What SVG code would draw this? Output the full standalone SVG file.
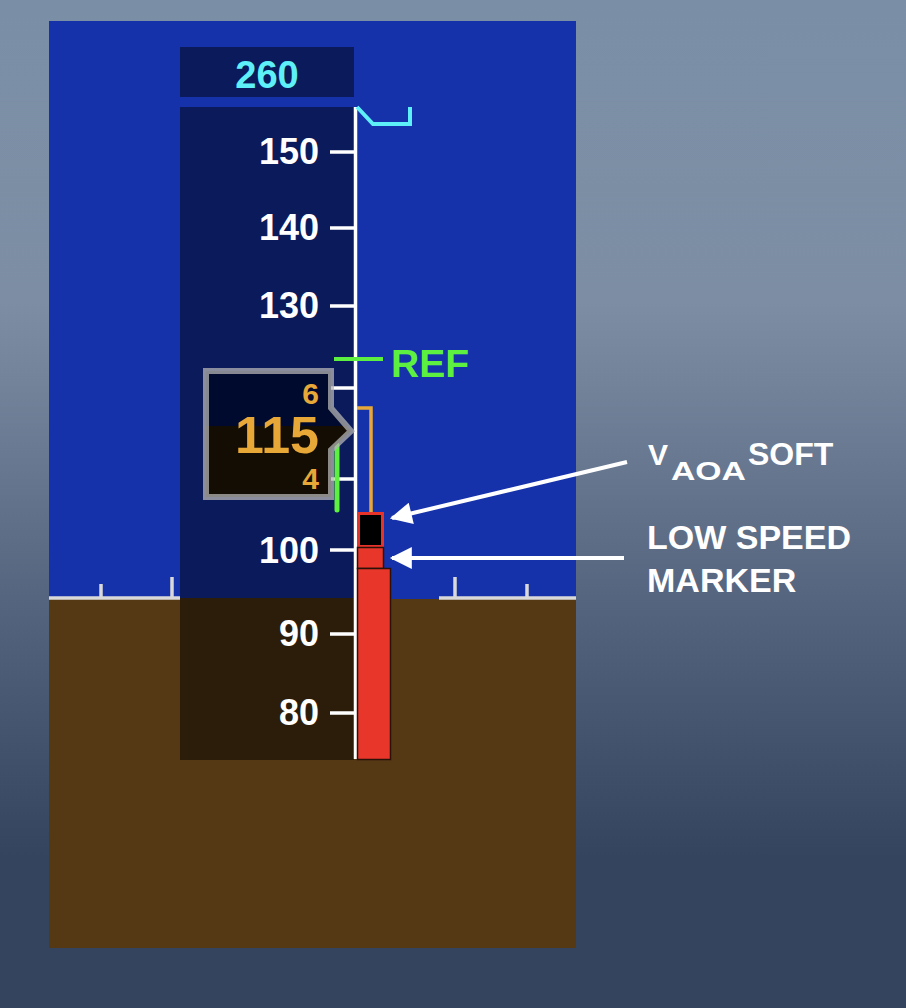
<svg xmlns="http://www.w3.org/2000/svg" width="906" height="1008" viewBox="0 0 906 1008">
  <defs>
    <linearGradient id="bg" x1="0" y1="0" x2="0" y2="1">
      <stop offset="0" stop-color="#7a8fa6"/>
      <stop offset="0.3" stop-color="#7d8ea4"/>
      <stop offset="0.6" stop-color="#55647e"/>
      <stop offset="0.85" stop-color="#34445e"/>
      <stop offset="1" stop-color="#34445e"/>
    </linearGradient>
    <marker id="ah" viewBox="0 0 10 10" refX="9" refY="5" markerWidth="6" markerHeight="5.5" markerUnits="strokeWidth" orient="auto">
      <path d="M0,0 L10,5 L0,10 Z" fill="#ffffff"/>
    </marker>
    <style>
      .num { font-family: "Liberation Sans", Arial, sans-serif; font-weight: bold; fill: #ffffff; font-size: 36px; text-anchor: end; }
      .tick { stroke: #ffffff; stroke-width: 3.5; }
      .lbl { font-family: "Liberation Sans", Arial, sans-serif; font-weight: bold; fill: #ffffff; }
      .hz { stroke: #d9d9d9; stroke-width: 3.5; fill: none; }
      .arrow { stroke: #ffffff; stroke-width: 4; fill: none; marker-end: url(#ah); }
      .amber { font-family: "Liberation Sans", Arial, sans-serif; font-weight: bold; fill: #e8a838; text-anchor: end; }
    </style>
  </defs>

  <rect x="0" y="0" width="906" height="1008" fill="url(#bg)"/>

  <g id="attitude">
    <rect x="49" y="21" width="527" height="578" fill="#1632aa"/>
    <rect x="49" y="599" width="527" height="349" fill="#553814"/>
    <path class="hz" d="M49,598 H181 M101,598 V584 M172,598 V577 M439,598 H576 M455,598 V577 M527,598 V584"/>
  </g>

  <g id="selected-speed">
    <rect x="180" y="47" width="174" height="50" fill="#0a1a5a"/>
    <text x="267" y="88" text-anchor="middle" font-family="Liberation Sans, Arial, sans-serif" font-weight="bold" font-size="38" fill="#5ef0f8">260</text>
  </g>

  <g id="speed-tape">
    <rect x="180" y="107" width="174" height="491" fill="#0a1a5a"/>
    <rect x="180" y="598" width="174" height="162" fill="#2c1d0a"/>
    <line x1="355.5" y1="107" x2="355.5" y2="759" stroke="#ffffff" stroke-width="3.5"/>
    <line class="tick" x1="330" y1="152" x2="354" y2="152"/>
    <line class="tick" x1="330" y1="228" x2="354" y2="228"/>
    <line class="tick" x1="330" y1="306" x2="354" y2="306"/>
    <line class="tick" x1="330" y1="388" x2="354" y2="388"/>
    <line class="tick" x1="330" y1="479" x2="354" y2="479"/>
    <line class="tick" x1="330" y1="550" x2="354" y2="550"/>
    <line class="tick" x1="330" y1="634" x2="354" y2="634"/>
    <line class="tick" x1="330" y1="713" x2="354" y2="713"/>
    <text class="num" x="319" y="164">150</text>
    <text class="num" x="319" y="240">140</text>
    <text class="num" x="319" y="318">130</text>
    <text class="num" x="319" y="563">100</text>
    <text class="num" x="319" y="646">90</text>
    <text class="num" x="319" y="725">80</text>
  </g>

  <g id="speed-bug">
    <path d="M357,107 L373,124 H410 V107" fill="none" stroke="#5ef0f8" stroke-width="4"/>
  </g>

  <g id="ref">
    <line x1="334" y1="359" x2="383" y2="359" stroke="#5ef040" stroke-width="4"/>
    <text x="391" y="377" font-family="Liberation Sans, Arial, sans-serif" font-weight="bold" font-size="39" fill="#5ef040">REF</text>
  </g>

  <g id="trend">
    <line x1="337" y1="445" x2="337" y2="510" stroke="#5ef040" stroke-width="5" stroke-linecap="round"/>
    <path d="M357,408 H371 V513" fill="none" stroke="#e8a838" stroke-width="3.5"/>
  </g>

  <g id="current-speed">
    <path d="M206,371 H331 V408 L351,431 L331,450 V497 H206 Z" fill="#140d03"/>
    <path d="M206,371 H331 V408 L349,426 H206 Z" fill="#000a2e"/>
    <path d="M206,371 H331 V408 L351,431 L331,450 V497 H206 Z" fill="none" stroke="#b4b4b4" stroke-opacity="0.75" stroke-width="6"/>
    <text class="amber" x="319" y="404" font-size="30">6</text>
    <text class="amber" x="319" y="453" font-size="52">115</text>
    <text class="amber" x="319" y="489" font-size="30">4</text>
  </g>

  <g id="vaoa-soft">
    <rect x="358.5" y="513.5" width="24" height="33" fill="#000000" stroke="#e8332a" stroke-width="3"/>
  </g>

  <g id="low-speed-marker">
    <rect x="357.5" y="547.5" width="26" height="21" fill="#e8362a" stroke="#2a1208" stroke-width="1.5"/>
    <rect x="357.5" y="568.5" width="33" height="191" fill="#e8362a" stroke="#2a1208" stroke-width="1.5"/>
  </g>

  <g id="connectors">
    <line class="arrow" x1="627" y1="462" x2="392" y2="518"/>
    <line class="arrow" x1="624" y1="558" x2="392" y2="558"/>
  </g>

  <g id="label-vaoa">
    <text class="lbl" x="648" y="465" font-size="30">V</text>
    <text class="lbl" x="671" y="480" font-size="26" textLength="75" lengthAdjust="spacingAndGlyphs">AOA</text>
    <text class="lbl" x="748" y="465" font-size="32">SOFT</text>
  </g>

  <g id="label-low-speed">
    <text class="lbl" x="647" y="549" font-size="34">LOW SPEED</text>
    <text class="lbl" x="647" y="592" font-size="34">MARKER</text>
  </g>
</svg>
